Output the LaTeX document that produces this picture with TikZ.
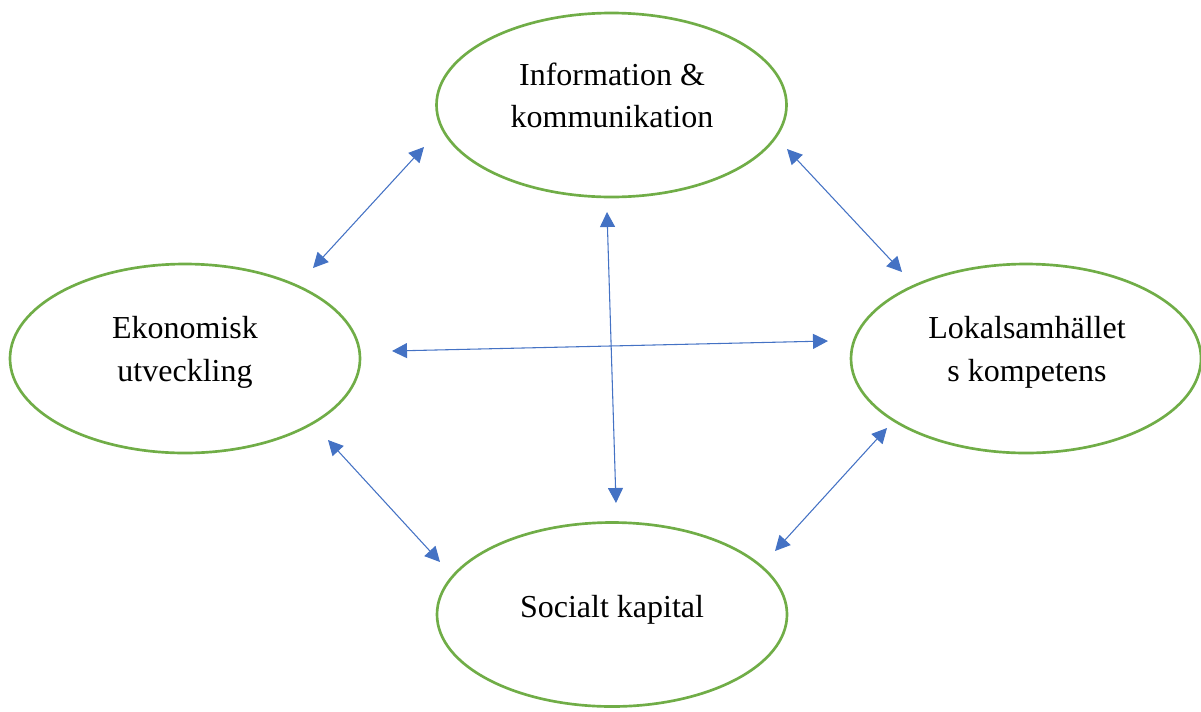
\documentclass[tikz,border=0pt]{standalone}
\usepackage{fontspec}
\setmainfont{Liberation Serif}
\usetikzlibrary{arrows.meta,shapes.geometric}
\definecolor{ellgreen}{RGB}{112,173,71}
\definecolor{arrblue}{RGB}{68,114,196}
\begin{document}
\begin{tikzpicture}[x=0.75pt,y=-0.75pt,
  ell/.style={draw=ellgreen,line width=2pt,ellipse,inner sep=0pt,minimum width=262.5pt},
  lbl/.style={anchor=base,inner sep=0pt,font=\fontsize{24pt}{32pt}\selectfont},
  link/.style={draw=arrblue,line width=0.8pt,{Triangle[length=11.25pt,width=11.25pt]}-{Triangle[length=11.25pt,width=11.25pt]}}]
\useasboundingbox (0,0) rectangle (1201,711);
% ellipses
\node[ell,minimum height=138pt] (info) at (611.5,105) {};
\node[ell,minimum height=141.75pt] (eko) at (185,358.5) {};
\node[ell,minimum height=141.75pt] (lok) at (1026,358.5) {};
\node[ell,minimum height=138pt] (soc) at (612,614.5) {};
% labels
\node[lbl] (infoA) at (612,85) {Information \&};
\node[lbl] (infoB) at (612,127) {kommunikation};
\node[lbl] (ekoA) at (185,338) {Ekonomisk};
\node[lbl] (ekoB) at (185,381) {utveckling};
\node[lbl] (lokA) at (1027,338) {Lokalsamhället};
\node[lbl] (lokB) at (1027,381) {s kompetens};
\node[lbl] (socA) at (612,617) {Socialt kapital};
% arrow end points
\coordinate (tlA) at (424,147);
\coordinate (tlB) at (313,268);
\coordinate (trA) at (787,149);
\coordinate (trB) at (902,272);
\coordinate (blA) at (328,440);
\coordinate (blB) at (440,562);
\coordinate (brA) at (887,428);
\coordinate (brB) at (775,551);
\coordinate (hA) at (392,351);
\coordinate (hB) at (828,341);
\coordinate (vA) at (607,212);
\coordinate (vB) at (616,503);
% arrows
\draw[link] (tlA) -- (tlB);
\draw[link] (trA) -- (trB);
\draw[link] (blA) -- (blB);
\draw[link] (brA) -- (brB);
\draw[link] (hA) -- (hB);
\draw[link] (vA) -- (vB);
\end{tikzpicture}
\end{document}
